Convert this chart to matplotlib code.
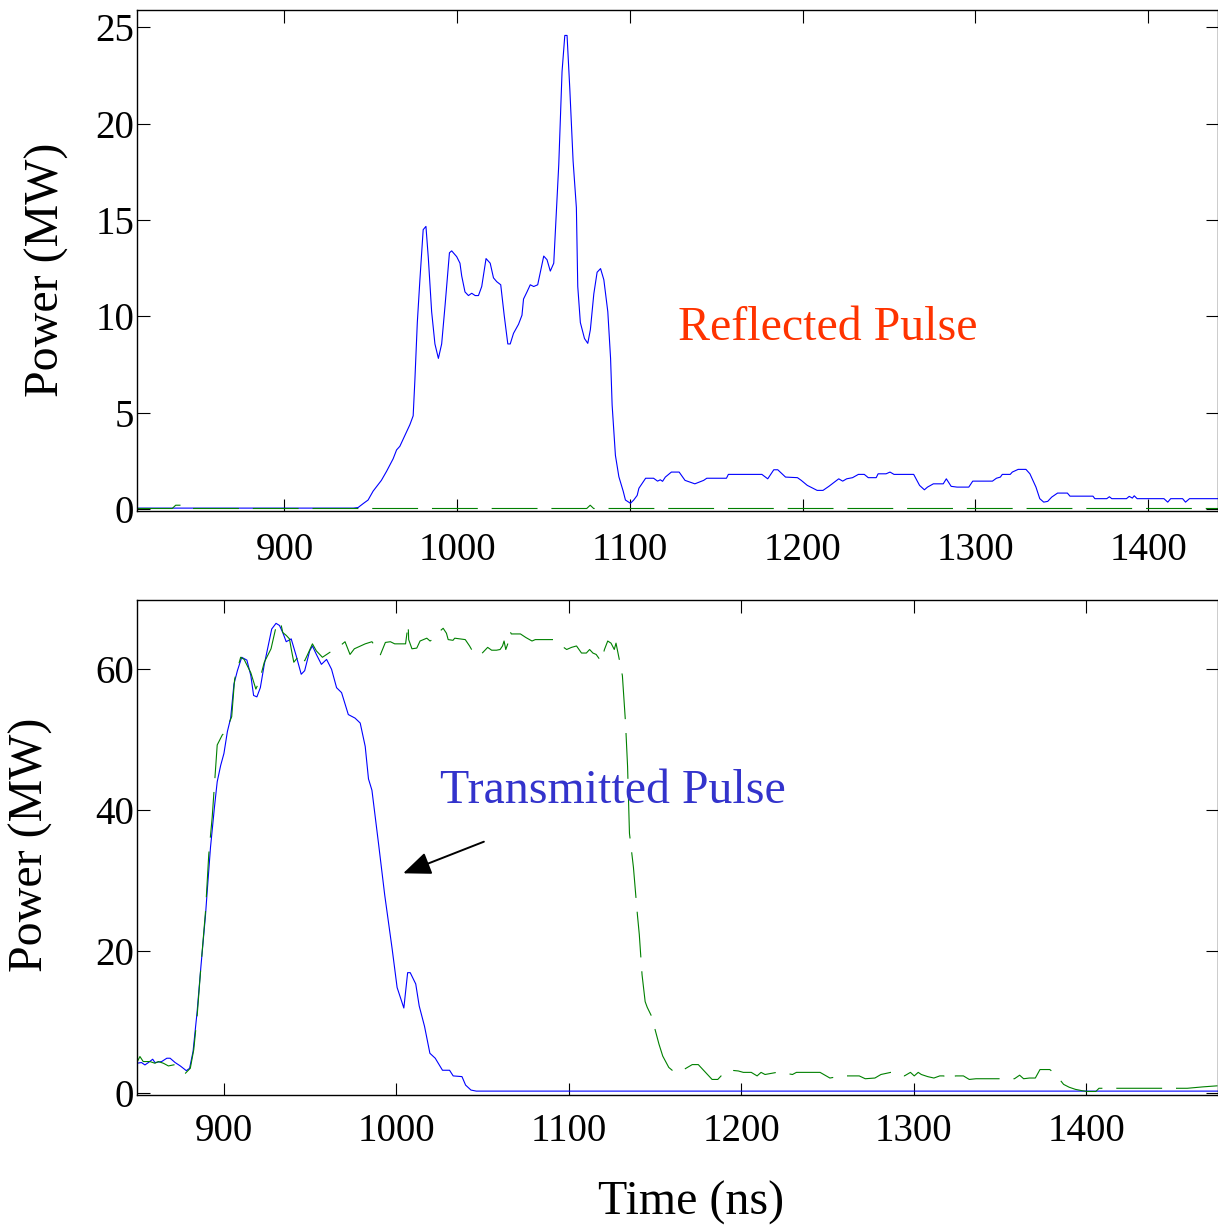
import matplotlib
matplotlib.use('Agg')
import matplotlib.pyplot as plt

# ---------------- data ----------------
# Top panel: reflected pulse (blue solid) and reference (green dashed)
top_t_blue = [814, 940, 942.6, 945.5, 948.4, 951.3, 956.1, 959.1, 962.9, 964.9, 966.8, 969.7,
              972.6, 974.5, 975.5, 976.9, 978.4, 980.3, 981.9, 983.3, 985.2, 987.1, 989.1,
              991.0, 993.0, 995.5, 996.8, 999.7, 1001.6, 1002.6, 1004.5, 1006.5, 1008.4,
              1010.4, 1012.3, 1014.2, 1016.7, 1019.1, 1021.0, 1022.9, 1025.2, 1027.2, 1029.3,
              1030.7, 1032.6, 1035.5, 1037.5, 1038.4, 1040.4, 1042.3, 1044.3, 1046.6, 1048.1,
              1050.1, 1052.0, 1053.9, 1055.9, 1056.8, 1058.8, 1060.7, 1062.3, 1063.6, 1065.2,
              1067.1, 1069.0, 1069.8, 1071.3, 1073.7, 1075.6, 1077.1, 1079.1, 1081.0, 1083.0,
              1084.9, 1087.2, 1088.8, 1089.7, 1091.6, 1093.6, 1096.1, 1097.4, 1100.3, 1102.2,
              1104.2, 1105.2, 1109.1, 1113.7, 1116, 1117.6, 1118.9, 1120.5, 1124, 1128.5,
              1131.9, 1137.6, 1142.7, 1144.5, 1155.9, 1157, 1176.4, 1179.8, 1183.3, 1185.6,
              1190.1, 1197, 1199.2, 1202.7, 1208.4, 1211.8, 1215.2, 1220.9, 1223.2, 1225.5,
              1228.9, 1232.3, 1235.7, 1238, 1242.6, 1243.7, 1248.3, 1250.6, 1252.9, 1264.3,
              1267.7, 1270.5, 1272.3, 1275.7, 1281.4, 1283.2, 1286, 1289.4, 1296.2, 1298.5,
              1309.9, 1312.2, 1314.5, 1315.6, 1320.2, 1321.4, 1324.8, 1329.3, 1331.6, 1335.1,
              1337.3, 1339.6, 1341.9, 1344.2, 1347.6, 1353.3, 1354.8, 1368.1, 1369.2, 1376.1,
              1377.6, 1379, 1387.5, 1389.1, 1390.9, 1392, 1393.7, 1409.2, 1411.4, 1413.1,
              1420, 1421.7, 1424, 1441]
top_p_blue = [0.05, 0.05, 0.08, 0.28, 0.47, 0.93, 1.49, 1.96, 2.61, 3.07, 3.26, 3.82,
              4.38, 4.84, 6.7, 9.68, 11.9, 14.5, 14.67, 13.0, 10.24, 8.57, 7.82,
              8.57, 10.6, 13.3, 13.4, 13.1, 12.76, 12.1, 11.27, 11.08, 11.2,
              11.08, 11.08, 11.55, 13.0, 12.76, 12.0, 11.8, 11.64, 10.06, 8.57,
              8.57, 9.12, 9.59, 10.06, 10.9, 11.27, 11.64, 11.55, 11.64, 12.29,
              13.13, 12.94, 12.35, 12.76, 14.34, 17.88, 22.7, 24.58, 24.58, 21.8,
              18.06, 15.64, 11.55, 9.68, 8.85, 8.6, 9.31, 11.17, 12.29, 12.48,
              11.9, 10.24, 7.82, 5.4, 2.79, 1.68, 0.93, 0.47, 0.3, 0.47,
              0.71, 1.08, 1.6, 1.6, 1.45, 1.52, 1.44, 1.66, 1.92, 1.92,
              1.49, 1.31, 1.49, 1.6, 1.6, 1.8, 1.8, 1.57, 2.04, 2.04,
              1.66, 1.63, 1.49, 1.23, 0.97, 0.97, 1.18, 1.57, 1.45, 1.57,
              1.63, 1.8, 1.8, 1.63, 1.63, 1.83, 1.83, 1.92, 1.8, 1.8,
              1.23, 1.0, 1.14, 1.31, 1.31, 1.57, 1.18, 1.14, 1.14, 1.45,
              1.45, 1.6, 1.66, 1.8, 1.8, 1.92, 2.06, 2.06, 1.83, 1.14,
              0.54, 0.36, 0.4, 0.62, 0.83, 0.83, 0.67, 0.67, 0.54, 0.54,
              0.64, 0.54, 0.54, 0.66, 0.57, 0.69, 0.54, 0.54, 0.36, 0.54,
              0.54, 0.36, 0.54, 0.54]

top_t_green = [814, 835, 837, 840, 842, 1075, 1077, 1079, 1441]
top_p_green = [0.03, 0.03, 0.2, 0.2, 0.03, 0.03, 0.2, 0.03, 0.03]

# Bottom panel: transmitted pulse (blue solid) and reference (green dashed)
bot_t_blue = [849.5, 852.2, 854.2, 856.2, 858.7, 860, 863.9, 866.9, 868.8, 871.7, 874.7,
              878.2, 880.1, 882.1, 884.4, 886.7, 889.3, 890.3, 892.2, 894.5, 896.1, 898.1,
              900, 902, 903.9, 905.8, 907.8, 910.3, 913.3, 915.6, 917.2, 919.1, 921.1,
              923.4, 925.3, 927.7, 930.2, 932.2, 934.1, 936.1, 939, 941.9, 944.8, 946.8,
              949.7, 951.3, 953.6, 956.5, 959.5, 962.4, 965.3, 968.2, 972.1, 976, 979,
              981.9, 983.8, 985.8, 989.7, 993.2, 997.5, 1000.4, 1004.3, 1006.5, 1008,
              1011.2, 1013.2, 1016.3, 1019.4, 1022.5, 1026.7, 1030.8, 1032.9, 1038, 1040.1,
              1043.2, 1046.3, 1476]
bot_p_blue = [4.19, 4.29, 3.95, 4.29, 4.76, 4.29, 4.43, 4.9, 4.9, 4.29, 3.81,
              3.14, 3.48, 5.86, 11.33, 18, 25.1, 28.5, 34.7, 40.4, 44, 46.3,
              48, 51.1, 53, 57.8, 59.7, 61.6, 61.2, 59, 56.2, 56, 57.3,
              60.6, 62.8, 65.6, 66.4, 66.1, 65.1, 63.8, 64.2, 61.8, 59.2, 59.7,
              62.5, 63.2, 62, 60.6, 61.3, 59.9, 57.3, 56.6, 53.5, 53, 52.3,
              49, 44.4, 42.8, 35.1, 28, 20.4, 14.9, 12, 17, 17,
              15.4, 12.3, 9.4, 5.6, 4.9, 3.2, 3.2, 2.4, 2.3, 1.1,
              0.4, 0.25, 0.25]

bot_t_green = [849.5, 851.3, 853.2, 857.1, 860, 862, 864.9, 867.8, 871.7, 875.6, 877.6,
               880.5, 882.5, 884.5, 886.7, 889.3, 891.2, 893.2, 896.1, 899, 901, 904.5,
               906.2, 909.7, 911.7, 915.6, 918.5, 920.5, 923.4, 927.3, 930.2, 932.7, 934.1,
               936.1, 938, 939, 940.5, 942.5, 944.4, 946.8, 949.1, 951.3, 953.6, 957.1,
               961.4, 966.3, 970.2, 973.1, 975.6, 981.9, 985.8, 988.1, 990.6, 993.6, 996.5,
               999, 1005.3, 1006.8, 1007.1, 1009, 1011.8, 1013.7, 1015.6, 1017.6, 1019.5,
               1022.3, 1025.2, 1027.1, 1029, 1030, 1032.8, 1033.8, 1037, 1039.9, 1042.4,
               1045.2, 1049, 1052.9, 1055.2, 1058, 1060.1, 1061.5, 1062.4, 1063.4, 1064.7,
               1065.8, 1066.6, 1071.9, 1075, 1078.6, 1080.5, 1092, 1095.8, 1098.7, 1101.5,
               1104.4, 1107.3, 1110.1, 1112, 1113.9, 1115.8, 1118.7, 1120.6, 1122.5, 1124.4,
               1126.3, 1127.3, 1129.2, 1131, 1132.8, 1134, 1135.1, 1137.4, 1139.7, 1140.8,
               1142.4, 1144.2, 1145.4, 1147.6, 1149.9, 1152.2, 1154.4, 1157.9, 1161.3, 1164.7,
               1168, 1171.5, 1175, 1178.4, 1183, 1186.3, 1190.9, 1194, 1198.2, 1201.1,
               1205.7, 1209.1, 1211.4, 1213.7, 1220.5, 1225, 1229.6, 1231.9, 1245.6, 1251.3,
               1256, 1260.4, 1268.3, 1271.8, 1277.4, 1280.9, 1286.6, 1291.1, 1294.5, 1298,
               1300.2, 1302.5, 1304.3, 1308, 1311.6, 1315, 1317.3, 1320.7, 1324.1, 1328.7,
               1332.1, 1336, 1340.1, 1358.3, 1361.3, 1363.6, 1367, 1370.4, 1373.1, 1378.8,
               1382.2, 1386.8, 1390, 1393.6, 1397.7, 1400.5, 1405.5, 1407.3, 1418.7, 1426.7,
               1458.5, 1467.6, 1476]
bot_p_green = [4.29, 5.14, 4.43, 4.43, 4.19, 4.43, 4.19, 3.81, 4.0, 3.24, 2.76,
               3.48, 6.1, 11.0, 18.0, 25.6, 33.7, 39, 49.2, 50.6, 51.1, 53.2,
               58.5, 61.6, 61.3, 59.4, 57.1, 58.2, 60.9, 62.8, 65.9, 66.7, 65.1,
               64.7, 64.2, 62.8, 60.9, 61.5, 62.2, 61.1, 62.3, 63.5, 62.5, 61.6,
               62.3, 63, 63.8, 62, 62.8, 63.5, 63.8, 63, 61.9, 63.7, 63.8,
               63.5, 63.5, 66.3, 64.1, 62.8, 62.9, 63.9, 64.1, 64.3, 63.9,
               64.3, 65.3, 65.7, 65.0, 64.1, 64, 64.3, 64.2, 64.1, 63.2,
               62.0, 62.0, 63.0, 62.6, 62.6, 62.7, 63.2, 63.9, 62.7, 63.6,
               65.3, 64.9, 64.9, 64.4, 63.9, 64.1, 64.1, 63.2, 62.7, 63.0,
               63.2, 62.2, 62.2, 62.7, 62.2, 62.0, 61.0, 62.7, 63.9, 63.6,
               62.7, 63.6, 61.3, 59, 52.4, 46.2, 36.7, 31.9, 25.2, 22.4,
               16.7, 12.9, 12.1, 11, 9, 6.9, 5.2, 3.6, 2.9, 3.0,
               3.5, 4.0, 4.0, 3.1, 1.9, 1.9, 3.1, 3.2, 3.1, 2.9,
               2.9, 2.4, 2.9, 2.6, 2.9, 2.8, 2.6, 2.9, 2.9, 2.1,
               2.3, 2.4, 2.4, 2.0, 2.1, 2.6, 2.9, 2.9, 2.4, 2.9,
               2.4, 2.9, 2.6, 2.3, 2.1, 2.4, 2.4, 1.7, 2.4, 2.4,
               1.9, 2.0, 2.0, 2.0, 2.5, 2.0, 2.1, 2.1, 3.3, 3.3,
               2.6, 1.2, 0.8, 0.5, 0.3, 0.2, 0.2, 0.65, 0.65, 0.65,
               0.65, 0.85, 1.0]

x_ticks = [900, 1000, 1100, 1200, 1300, 1400]
x_tick_labels = ['900', '1000', '1100', '1200', '1300', '1400']
top_y_ticks = [0, 5, 10, 15, 20, 25]
top_y_tick_labels = ['0', '5', '10', '15', '20', '25']
bot_y_ticks = [0, 20, 40, 60]
bot_y_tick_labels = ['0', '20', '40', '60']

# ---------------- figure ----------------
plt.rcParams['font.family'] = ['Liberation Serif', 'DejaVu Serif']
plt.rcParams['lines.scale_dashes'] = False

W, H = 1218, 1226
fig = plt.figure(figsize=(W / 100, H / 100), dpi=100)
ax1 = fig.add_axes([137 / W, (H - 511) / H, 1081 / W, 501 / H])
ax2 = fig.add_axes([137 / W, (H - 1095) / H, 1081 / W, 495 / H])

BLUE = '#0000ff'
GREEN = '#008000'
DASH = (33, 10)

ax1.plot(top_t_blue, top_p_blue, color=BLUE, lw=0.8)
ax1.plot(top_t_green, top_p_green, color=GREEN, lw=0.8, dashes=DASH)
ax2.plot(bot_t_blue, bot_p_blue, color=BLUE, lw=0.8)
ax2.plot(bot_t_green, bot_p_green, color=GREEN, lw=0.8, dashes=DASH)

ax1.set_xlim(814.6, 1440.5)
ax1.set_ylim(-0.1, 25.9)
ax2.set_xlim(849.6, 1476.3)
ax2.set_ylim(-0.3, 69.7)

ax1.set_xticks(x_ticks, x_tick_labels)
ax2.set_xticks(x_ticks, x_tick_labels)
ax1.set_yticks(top_y_ticks, top_y_tick_labels)
ax2.set_yticks(bot_y_ticks, bot_y_tick_labels)

for ax in (ax1, ax2):
    ax.tick_params(axis='both', direction='in', length=9, width=0.8,
                   top=True, right=True, labelsize=28, colors='black')
    ax.tick_params(axis='y', pad=2)
    for sp in ax.spines.values():
        sp.set_linewidth(1.0)
ax1.tick_params(axis='x', pad=15)
ax2.tick_params(axis='x', pad=13)

ax1.set_ylabel('Power (MW)', fontsize=34.5)
ax1.yaxis.label.set_verticalalignment('center')
ax1.yaxis.set_label_coords((47 - 137) / 1081, (511 - 270) / 501)
ax2.set_ylabel('Power (MW)', fontsize=34.5)
ax2.yaxis.label.set_verticalalignment('center')
ax2.yaxis.set_label_coords((31 - 137) / 1081, (1095 - 845) / 495)
ax2.set_xlabel('Time (ns)', fontsize=34.5)
ax2.xaxis.label.set_verticalalignment('center')
ax2.xaxis.set_label_coords((691 - 137) / 1081, (1095 - 1203) / 495)

ax1.text(1127.9, 8.77, 'Reflected Pulse', color='#ff3300', fontsize=34.5,
         ha='left', va='baseline')
ax2.text(1025.2, 41.0, 'Transmitted Pulse', color='#3333cc', fontsize=34.5,
         ha='left', va='baseline')
ax2.annotate('', xy=(1003.9, 31.05), xytext=(1050.7, 35.52),
             arrowprops=dict(arrowstyle='-|>,head_length=0.85,head_width=0.35',
                             color='black', lw=1.4, mutation_scale=20,
                             shrinkA=0, shrinkB=0))

fig.savefig('out.png', dpi=100)
